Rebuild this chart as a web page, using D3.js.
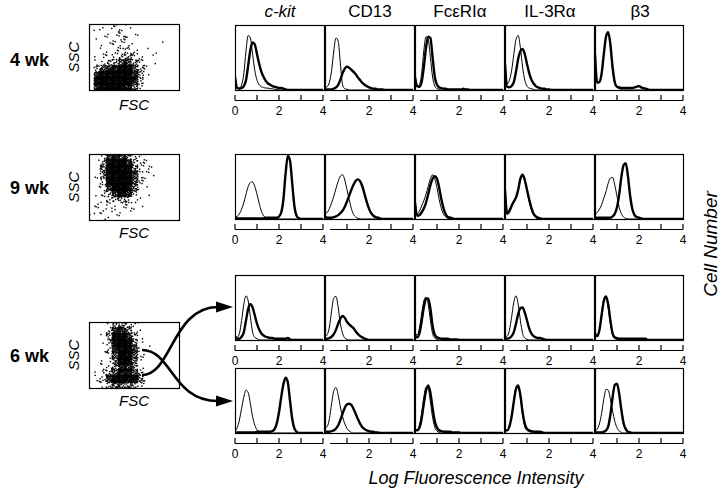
<!DOCTYPE html>
<html><head><meta charset="utf-8">
<script src="https://cdn.jsdelivr.net/npm/d3@7"></script>
<style>
html,body{margin:0;padding:0;background:#fff;}
svg{display:block;font-family:"Liberation Sans",Arial,Helvetica,sans-serif;}
</style></head>
<body><svg id="fig" width="720" height="492"></svg>
<script>
// ---------------- DATA ----------------
const markers = ["c-kit", "CD13", "FcεRIα", "IL-3Rα", "β3"];
const rowLabels = ["4 wk", "9 wk", "6 wk"];
const tickValues = [0, 1, 2, 3, 4];
const tickLabels = ["0", "", "2", "", "4"];
const logBins = d3.range(41).map(i => i / 10); // log fluorescence bins 0..4

// relative cell number (% of panel height) per bin; thin = control, thick = stained
const wk4Control = [
  [25,3,3,8,25,60,84,80,55,30,15,8,5,4,3,3,2,2,1,1],
  [3,5,12,30,60,80,75,40,8,2,1],
  [10,5,8,25,60,82,78,50,20,6,2,1],
  [45,10,15,30,55,78,84,65,35,15,6,3,2,1],
  [50,10,12,26,56,83,88,66,30,10,4,2,1]
];
const wk4Stained = [
  [20,3,2,3,6,15,38,62,73,70,55,40,28,20,14,10,8,6,5,4,3,3,2,1],
  [1,1,1,1,2,4,8,16,26,33,36,34,31,28,24,19,15,11,8,6,4,3,2,2,1,1,1],
  [20,6,5,12,35,65,82,80,50,20,8,4,3,2,2,1,1,1,1,1,1,1,2,1,1],
  [40,5,4,6,12,28,48,60,63,55,40,26,16,10,6,4,3,2,2,1,1],
  [55,12,12,25,55,82,89,70,35,12,5,4,3,3,3,3,3,3,4,5,6,4,3,2,1]
];
const wk9Control = [
  [3,4,8,15,25,38,50,56,57,50,38,24,12,5,2,1],
  [8,10,16,25,35,47,58,66,68,60,45,30,16,7,3,1],
  [30,8,12,20,28,38,50,62,68,62,48,30,16,7,3,1],
  [40,10,15,22,28,34,46,60,66,58,42,27,14,6,2],
  [8,10,15,22,32,42,55,63,64,52,35,18,8,3,1]
];
const wk9Stained = [
  [2,1,1,1,1,1,1,1,1,1,1,1,1,1,2,2,2,2,2,2,4,10,30,70,97,90,55,20,5,1],
  [4,2,2,2,3,4,6,9,13,19,27,36,45,53,59,61,58,50,38,26,16,9,5,3,2,1],
  [25,5,6,10,16,25,38,52,62,66,62,48,30,16,7,3,2,1],
  [45,8,12,20,27,33,45,62,68,60,45,30,17,8,4,2,1],
  [2,2,2,2,2,2,2,2,4,8,18,38,65,83,86,65,35,15,6,3,2,1]
];
const wk6UpperControl = [
  [8,4,10,30,55,68,60,35,12,4,2],
  [5,8,20,45,65,67,50,25,10,3,1],
  [10,8,18,40,60,66,55,30,10,3,1],
  [5,6,15,35,58,68,55,30,10,3,1],
  [8,6,16,40,62,66,50,25,8,2,1]
];
const wk6UpperStained = [
  [5,2,2,5,12,30,48,55,50,38,25,16,10,7,5,4,3,3,2,2,2,2,2,2,3,1],
  [2,2,3,5,9,16,25,33,37,34,28,24,21,18,13,9,6,4,2,1],
  [8,4,10,28,50,63,64,48,22,8,4,3,2,2,2,2,1,1,1,1],
  [3,2,3,6,12,25,40,49,50,42,30,18,10,6,4,3,3,2,1],
  [10,6,15,38,60,67,55,30,10,4,3,2,2,2,2,2,2,2,2,2,2,2,2,2]
];
const wk6LowerControl = [
  [3,8,20,38,55,66,62,45,25,12,5,2,1],
  [8,10,22,45,65,70,58,40,25,14,7,3,1],
  [5,5,12,30,55,70,68,48,24,9,3,1],
  [5,4,10,26,50,68,70,54,28,10,4,2,1],
  [3,6,14,30,52,67,66,52,34,18,8,3,1]
];
const wk6LowerStained = [
  [1,1,1,1,1,1,1,1,1,1,2,2,2,2,2,2,2,3,6,15,32,55,75,85,78,50,22,7,2],
  [2,2,2,3,4,7,12,20,30,39,44,45,43,37,29,21,14,9,6,4,3,2,2,1,1],
  [5,4,8,22,45,65,73,62,38,18,8,4,3,2,2,2,2,1,1,1,1],
  [5,4,10,25,48,68,73,58,32,14,6,4,3,2,2,2,2,1],
  [1,1,1,1,2,4,10,28,55,74,76,60,35,15,6,2,1]
];

// FSC x SSC event density (0-9), 15 columns (FSC) x 11 rows (SSC, top row first)
const wk4Density = [
  [0,1,1,2,2,2,1,0,0,0,0,0,0,0,0],
  [0,1,1,1,2,3,1,1,0,0,0,0,0,0,0],
  [0,1,1,1,2,3,2,1,0,0,0,0,0,0,0],
  [0,0,1,1,2,3,2,1,0,0,0,0,1,0,0],
  [0,1,1,2,2,3,3,2,1,1,0,0,0,0,0],
  [0,1,2,2,3,4,5,3,2,1,1,1,0,0,0],
  [0,2,3,4,5,7,7,5,3,2,1,0,0,0,0],
  [0,5,7,8,8,9,9,7,4,2,0,0,0,0,0],
  [0,8,9,9,9,9,9,8,5,1,0,0,0,0,0],
  [0,9,9,9,9,9,9,8,4,1,0,0,0,0,0],
  [0,8,9,9,9,9,8,6,2,0,0,0,0,0,0]
];
const wk9Density = [
  [0,0,3,7,8,7,5,3,2,1,0,0,0,0,0],
  [0,1,5,9,9,9,8,5,3,2,1,0,0,0,0],
  [0,1,6,9,9,9,9,6,3,2,1,0,0,0,0],
  [0,1,5,9,9,9,9,7,3,2,1,0,0,0,0],
  [0,1,4,9,9,9,9,7,3,2,0,0,0,0,0],
  [0,1,3,8,9,9,9,6,2,1,0,0,0,0,0],
  [0,1,2,5,8,9,8,4,2,1,0,0,0,0,0],
  [0,1,2,3,4,5,4,2,1,0,0,0,0,0,0],
  [1,2,2,2,2,2,2,1,1,0,0,0,0,0,0],
  [1,2,2,2,2,2,1,1,0,0,0,0,0,0,0],
  [0,1,1,1,1,0,0,0,0,0,0,0,0,0,0]
];
const wk6Density = [
  [0,0,0,2,5,5,4,2,1,0,0,0,0,0,0],
  [0,0,1,4,8,8,6,3,1,0,0,0,0,0,0],
  [0,0,1,5,9,9,8,4,1,0,0,0,0,0,0],
  [0,0,1,4,9,9,9,6,2,0,0,0,0,0,0],
  [0,0,1,3,8,9,9,7,2,1,0,0,0,0,0],
  [0,0,1,3,7,9,9,7,2,1,0,0,0,0,0],
  [0,0,1,2,6,9,9,6,2,0,0,0,0,0,0],
  [0,1,2,3,5,8,8,5,2,0,0,0,0,0,0],
  [0,1,3,5,7,8,8,7,4,1,0,0,0,0,0],
  [0,2,4,8,9,9,9,9,6,1,0,0,0,0,0],
  [0,1,2,4,6,6,5,4,2,0,0,0,0,0,0]
];
const dotsPerLevel = [0,1,2,4,7,12,18,28,42,64];

// ---------------- LAYOUT ----------------
const svg = d3.select("#fig");
const colLefts = [235, 325, 415, 505, 595];
const panelW = 89, panelH = 65;
const histRows = [
  {top: 25,  ctrl: wk4Control, stain: wk4Stained},
  {top: 154, ctrl: wk9Control, stain: wk9Stained},
  {top: 275, ctrl: wk6UpperControl, stain: wk6UpperStained},
  {top: 368, ctrl: wk6LowerControl, stain: wk6LowerStained}
];
const pad = a => a.concat(new Array(Math.max(0, logBins.length - a.length)).fill(0));

// column headers
svg.selectAll("text.hdr").data(markers).join("text")
  .attr("class", "hdr")
  .attr("x", (d, i) => colLefts[i] + 45)
  .attr("y", 17)
  .attr("text-anchor", "middle")
  .attr("font-size", 17)
  .attr("font-style", (d, i) => i === 0 ? "italic" : "normal")
  .text(d => d);

const defs = svg.append("defs");

histRows.forEach((row, r) => {
  const y = d3.scaleLinear().domain([0, 100]).range([row.top + panelH, row.top]);
  colLefts.forEach((cl, c) => {
    const x = d3.scaleLinear().domain([0, 4]).range([cl, cl + 88]);
    const cid = `clip-${r}-${c}`;
    defs.append("clipPath").attr("id", cid).append("rect")
      .attr("x", cl).attr("y", row.top).attr("width", panelW + 1).attr("height", panelH);
    const g = svg.append("g");
    const line = d3.line().x((d, i) => x(logBins[i])).y(d => y(d)).curve(d3.curveMonotoneX);
    const pg = g.append("g").attr("clip-path", `url(#${cid})`);
    pg.append("path").attr("d", line(pad(row.ctrl[c])))
      .attr("fill", "none").attr("stroke", "#000").attr("stroke-width", 1);
    pg.append("path").attr("d", line(pad(row.stain[c])))
      .attr("fill", "none").attr("stroke", "#000").attr("stroke-width", 2.4).attr("stroke-linejoin", "round");
    g.append("rect").attr("x", cl + 0.5).attr("y", row.top + 0.5)
      .attr("width", c === 4 ? panelW - 1 : panelW + 0).attr("height", panelH)
      .attr("fill", "none").attr("stroke", "#000").attr("stroke-width", 1.2);
    // axis
    const ay = row.top + panelH + 10.5;
    const x0 = c === 0 ? x(0) : x(0) + 5;
    g.append("line").attr("x1", x0).attr("x2", x(4)).attr("y1", ay).attr("y2", ay)
      .attr("stroke", "#000").attr("stroke-width", 1.2);
    const tv = c === 0 ? tickValues : tickValues.slice(1);
    g.selectAll("line.tk").data(tv).join("line").attr("class", "tk")
      .attr("x1", d => x(d)).attr("x2", d => x(d)).attr("y1", ay).attr("y2", ay - 5.5)
      .attr("stroke", "#000").attr("stroke-width", 1.2);
    g.selectAll("text.tl").data(tv.filter(d => tickLabels[d] !== "")).join("text").attr("class", "tl")
      .attr("x", d => x(d)).attr("y", ay + 14)
      .attr("text-anchor", "middle").attr("font-size", 12)
      .text(d => tickLabels[d]);
  });
});

// scatter plots: each density cell is rendered as a low-discrepancy (Halton) dot pattern,
// rotated per cell by a fixed golden-ratio offset so neighbouring cells do not align
function halton(i, b) { let f = 1, r = 0; while (i > 0) { f /= b; r += f * (i % b); i = Math.floor(i / b); } return r; }
const frac = v => v - Math.floor(v);
const scatters = [
  {top: 24, dens: wk4Density, label: rowLabels[0], lab: 65.5, fsc: 110},
  {top: 154, dens: wk9Density, label: rowLabels[1], lab: 194, fsc: 238},
  {top: 322, dens: wk6Density, label: rowLabels[2], lab: 362, fsc: 406}
];
const sL = 89, sW = 90, sH = 66;
scatters.forEach((s, k) => {
  const nr = s.dens.length, nc = s.dens[0].length;
  const fx = d3.scaleLinear().domain([0, nc]).range([sL, sL + sW]);
  const fy = d3.scaleLinear().domain([0, nr]).range([s.top, s.top + sH]);
  const pts = [];
  s.dens.forEach((rowArr, ri) => rowArr.forEach((v, ci) => {
    const n = dotsPerLevel[v];
    const cell = k * 200 + ri * nc + ci + 1;
    const ox = frac(cell * 0.6180339887), oy = frac(cell * 0.7548776662);
    for (let j = 1; j <= n; j++) {
      const px = Math.max(0.12, Math.min(nc - 0.12, ci - 0.15 + 1.3 * frac(halton(j, 2) + ox)));
      const py = Math.max(0.12, Math.min(nr - 0.12, ri - 0.15 + 1.3 * frac(halton(j, 3) + oy)));
      pts.push([px, py]);
    }
  }));
  svg.append("g").selectAll("rect").data(pts).join("rect")
    .attr("x", d => fx(d[0]) - 0.7).attr("y", d => fy(d[1]) - 0.7)
    .attr("width", 1.4).attr("height", 1.4).attr("fill", "#000");
  svg.append("rect").attr("x", sL + 0.5).attr("y", s.top + 0.5).attr("width", sW).attr("height", sH)
    .attr("fill", "none").attr("stroke", "#000").attr("stroke-width", 1.2);
  svg.append("text").attr("x", 10).attr("y", s.lab).attr("font-size", 18).attr("font-weight", "bold").text(s.label);
  svg.append("text").attr("transform", `translate(79,${s.top + sH / 2}) rotate(-90)`)
    .attr("text-anchor", "middle").attr("font-size", 15).attr("font-style", "italic").text("SSC");
  svg.append("text").attr("x", 134).attr("y", s.fsc).attr("text-anchor", "middle")
    .attr("font-size", 15).attr("font-style", "italic").text("FSC");
});

// gating arrows
const arrows = [
  {from: [142, 375], to: [233, 307]},
  {from: [142, 350], to: [233, 401]}
];
arrows.forEach(a => {
  const [sx, sy] = a.from, [tx, ty] = a.to;
  const bx = tx - 17;
  svg.append("path")
    .attr("d", `M${sx},${sy} C${sx + 30},${sy} ${sx + 30},${ty} ${bx + 2},${ty}`)
    .attr("fill", "none").attr("stroke", "#000").attr("stroke-width", 2.6);
  svg.append("path").attr("d", `M${tx},${ty} L${bx},${ty - 5.5} L${bx},${ty + 5.5} Z`).attr("fill", "#000");
});

// axis titles
svg.append("text").attr("x", 476).attr("y", 484).attr("text-anchor", "middle")
  .attr("font-size", 18).attr("font-style", "italic").text("Log Fluorescence Intensity");
svg.append("text").attr("transform", "translate(717,244) rotate(-90)").attr("text-anchor", "middle")
  .attr("font-size", 19).attr("font-style", "italic").text("Cell Number");
</script>
</body></html>
